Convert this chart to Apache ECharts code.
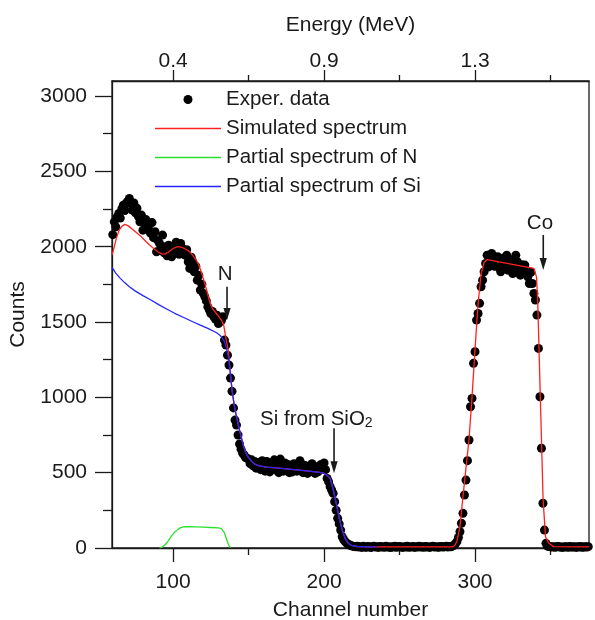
<!DOCTYPE html>
<html><head><meta charset="utf-8">
<script src="https://cdn.jsdelivr.net/npm/echarts@6/dist/echarts.min.js"></script>
<style>html,body{margin:0;padding:0;background:#fff}#c{width:595px;height:620px}</style>
</head><body><div id="c"></div>
<script>
// ---- tick definitions ----
const channelTicks = [100, 200, 300];
const channelMinorTicks = [150, 250, 350];
const energyTickLabels = ['0.4', '0.9', '1.3'];
const countTicks = [0, 500, 1000, 1500, 2000, 2500, 3000];
const countMinorTicks = [250, 750, 1250, 1750, 2250, 2750];

// ---- experimental data [channel, counts] ----
const expData = [
[60,2080],[61,2165],[62,2132],[63,2200],[64,2221],[65,2190],[66,2250],[67,2276],[68,2240],[69,2290],
[70,2300],[71,2320],[72,2285],[73,2243],[74,2290],[75,2225],[76,2255],[77,2200],[78,2165],[79,2210],
[80,2110],[81,2155],[82,2180],[83,2120],[84,2143],[85,2090],[86,2160],[87,2060],[88,2099],[89,1966],
[90,2040],[91,2022],[92,1990],[93,2077],[94,1960],[95,2000],[96,1940],[97,2010],[98,1960],[99,1933],
[100,1990],[101,1966],[102,2030],[103,1980],[104,1950],[105,2022],[106,1990],[107,1960],[108,1944],[109,1980],
[110,1900],[111,1856],[112,1930],[113,1900],[114,1834],[115,1870],[116,1778],[117,1810],[118,1712],[119,1750],
[120,1690],[121,1668],[122,1640],[123,1601],[124,1580],[125,1557],[126,1570],[127,1535],[128,1520],[129,1545],
[130,1490],[131,1502],[132,1510],[133,1535],[134,1380],[135,1347],[136,1280],[137,1214],[138,1128],[139,1040],
[140,930],[141,849],[142,816],[143,750],[144,690],[145,655],[146,630],[147,617],[148,600],[149,595],
[150,590],[151,560],[152,585],[153,545],[154,575],[155,530],[156,568],[157,550],[158,520],[159,580],
[160,545],[161,510],[162,575],[163,540],[164,505],[165,560],[166,530],[167,585],[168,520],[169,550],
[170,500],[171,590],[172,535],[173,510],[174,565],[175,520],[176,555],[177,500],[178,545],[179,505],
[180,560],[181,530],[182,510],[183,555],[184,580],[185,515],[186,500],[187,550],[188,530],[189,495],
[190,545],[191,510],[192,560],[193,525],[194,495],[195,540],[196,505],[197,520],[198,555],[199,540],
[200,565],[201,520],[202,462],[203,440],[204,407],[205,385],[206,363],[207,307],[208,250],[209,197],
[210,160],[211,119],[212,75],[213,55],[214,42],[215,32],[216,25],[217,20],[218,15],[219,12],
[220,10],[221,8],[222,12],[223,6],[224,9],[225,4],[226,11],[227,7],[228,5],[229,10],
[230,8],[231,3],[232,9],[233,12],[234,6],[235,8],[236,4],[237,10],[238,7],[239,9],
[240,5],[241,11],[242,6],[243,8],[244,3],[245,9],[246,7],[247,12],[248,5],[249,8],
[250,10],[251,6],[252,4],[253,9],[254,7],[255,11],[256,5],[257,8],[258,6],[259,10],
[260,4],[261,9],[262,7],[263,12],[264,6],[265,8],[266,5],[267,10],[268,7],[269,9],
[270,4],[271,8],[272,11],[273,6],[274,9],[275,7],[276,5],[277,10],[278,8],[279,6],
[280,9],[281,12],[282,7],[283,10],[284,8],[285,12],[286,18],[287,28],[288,42],[289,70],
[290,108],[291,164],[292,230],[293,352],[294,451],[295,580],[296,717],[297,938],[298,993],[299,1226],
[300,1303],[301,1513],[302,1557],[303,1624],[304,1734],[305,1778],[306,1834],[307,1889],[308,1944],[309,1866],
[310,1920],[311,1955],[312,1900],[313,1870],[314,1930],[315,1933],[316,1860],[317,1834],[318,1900],[319,1925],
[320,1870],[321,1944],[322,1844],[323,1890],[324,1910],[325,1822],[326,1870],[327,1944],[328,1900],[329,1840],
[330,1811],[331,1880],[332,1850],[333,1878],[334,1830],[335,1800],[336,1756],[337,1830],[338,1756],[339,1690],
[340,1646],[341,1546],[342,1325],[343,1004],[344,662],[345,297],[346,119],[347,31],[348,12],[349,10],
[350,8],[351,6],[352,9],[353,5],[354,8],[355,10],[356,6],[357,7],[358,4],[359,9],
[360,6],[361,8],[362,5],[363,10],[364,7],[365,6],[366,9],[367,4],[368,8],[369,6],
[370,10],[371,5],[372,7],[373,8],[374,6],[375,9]
];

// ---- simulated spectrum [channel, counts] ----
const simData = [
[59.5,1944],[61,2000],[62.5,2060],[64,2105],[66,2135],[68,2148],[70,2140],[72,2125],[75,2100],[78,2075],
[81,2045],[84,2015],[87,1989],[90,1965],[92.5,1953],[94.5,1951],[97,1965],[100,1988],[103,2000],[106,1995],
[109,1980],[111,1966],[113,1942],[115,1915],[117,1880],[119,1820],[121,1756],[123,1680],[124.5,1624],[126,1590],
[128,1565],[130,1540],[132,1512],[133.5,1480],[135,1390],[136.5,1314],[138,1150],[139,1050],[140,980],[141,920],
[142,870],[143,825],[144,783],[145,740],[146,700],[147,665],[148,635],[149,615],[150,600],[152,575],
[154,557],[157,545],[162,537],[170,530],[180,520],[190,510],[197,502],[200,495],[202,482],[204,462],
[206,390],[208,300],[210,200],[212,120],[214,62],[216,32],[218,18],[222,10],[230,7],[285,7],
[286.5,15],[288,45],[290,140],[292,340],[294,530],[296,720],[298,1000],[300,1320],[302,1620],[304,1820],
[306,1895],[308,1915],[309,1916],[339,1856],[340.7,1800],[341.5,1646],[343.3,982],[345.1,318],[346.7,75],[348.9,31],
[352,9],[375.5,8]
];

// ---- partial spectrum of N ----
const nData = [
[91,0],[93,8],[95,25],[97,50],[99,80],[101,105],[103,122],[105,135],[107,141],[110,142],
[115,140],[120,138],[125,136],[130,133],[132,128],[133,118],[134,100],[135,70],[136,40],[137,15],[138,2]
];

// ---- partial spectrum of Si ----
const siData = [
[59.5,1863],[62,1825],[65,1790],[68,1760],[71,1734],[75,1705],[80,1675],[85,1648],[91,1612],[96,1585],
[101,1558],[107,1530],[113,1502],[118,1480],[123,1458],[128.8,1429],[131,1412],[132.5,1395],[134,1370],[135.5,1320],
[137,1240],[138,1150],[139,1050],[140,980],[141,920],[142,870],[143,825],[144,783],[145,740],[146,700],
[147,665],[148,635],[149,615],[150,600],[152,575],[154,557],[157,545],[162,537],[170,530],[180,520],
[190,510],[197,502],[200,495],[202,482],[204,462],[206,390],[208,300],[210,200],[212,120],[214,62],
[216,32],[218,18],[222,10],[230,7],[235,7]
];

// ---- annotations (data coordinates) ----
const annoTexts = [
  {text: 'N', ch: 134.4, counts: 1814, align: 'center'},
  {text: 'Si from SiO{s|2}', ch: 157.6, counts: 856, align: 'left'},
  {text: 'Co', ch: 343.0, counts: 2155, align: 'center'}
];
const annoArrows = [
  {ch: 135.7, from: 1734, to: 1513},
  {ch: 206.6, from: 795, to: 496},
  {ch: 345.2, from: 2078, to: 1845}
];

const FONT = '"Liberation Sans", Arial, Helvetica, sans-serif';
const INK = '#1a1a1a';
const X_MIN = 59.5, X_MAX = 375.5, Y_MAX = 3100;
const LW = 1.3;
const LINE_ICON = 'path://M0,0H66V1.4H0Z';

function xa(extra) {
  return Object.assign({type: 'value', min: X_MIN, max: X_MAX, gridIndex: 0,
    splitLine: {show: false}}, extra);
}
function ya(extra) {
  return Object.assign({type: 'value', min: 0, max: Y_MAX, gridIndex: 0,
    splitLine: {show: false}}, extra);
}
const lineAx = {show: true, onZero: false, lineStyle: {color: INK, width: LW}};
const noLine = {show: false, onZero: false};
const tickStyle = {color: INK, width: LW};
const lblStyle = {fontSize: 21, color: INK, fontFamily: FONT};
const nameStyle = {fontSize: 21, color: INK, fontFamily: FONT};

const chart = echarts.init(document.getElementById('c'));
chart.setOption({
  animation: false,
  backgroundColor: '#fff',
  grid: {left: 112, right: 6, top: 81, bottom: 72, show: true, borderColor: INK, borderWidth: LW,
    backgroundColor: 'transparent', containLabel: false, outerBoundsMode: 'none'},
  legend: {
    orient: 'vertical', left: 150, top: 84, itemWidth: 66, itemHeight: 9, itemGap: 8,
    textStyle: {fontSize: 20.5, lineHeight: 20, color: INK, fontFamily: FONT},
    data: [
      {name: 'Exper. data', icon: 'circle'},
      {name: 'Simulated spectrum', icon: LINE_ICON},
      {name: 'Partial spectrum of N', icon: LINE_ICON},
      {name: 'Partial spectrum of Si', icon: LINE_ICON}
    ]
  },
  xAxis: [
    xa({position: 'bottom', axisLine: lineAx,
      axisTick: {show: true, inside: false, length: 14, customValues: channelTicks, lineStyle: tickStyle},
      axisLabel: Object.assign({customValues: channelTicks, margin: 24}, lblStyle),
      name: 'Channel number', nameLocation: 'middle', nameGap: 52, nameTextStyle: nameStyle}),
    xa({position: 'bottom', axisLine: noLine,
      axisTick: {show: true, inside: false, length: 7, customValues: channelMinorTicks, lineStyle: tickStyle},
      axisLabel: {show: false}}),
    xa({position: 'top', axisLine: lineAx,
      axisTick: {show: true, inside: false, length: 11, customValues: channelTicks, lineStyle: tickStyle},
      axisLabel: Object.assign({customValues: channelTicks, margin: 9,
        formatter: v => energyTickLabels[channelTicks.indexOf(v)]}, lblStyle),
      name: 'Energy (MeV)', nameLocation: 'middle', nameGap: 45, nameTextStyle: nameStyle}),
    xa({position: 'top', axisLine: noLine,
      axisTick: {show: true, inside: false, length: 6, customValues: channelMinorTicks, lineStyle: tickStyle},
      axisLabel: {show: false}})
  ],
  yAxis: [
    ya({position: 'left', axisLine: lineAx,
      axisTick: {show: true, inside: false, length: 17, customValues: countTicks, lineStyle: tickStyle},
      axisLabel: Object.assign({customValues: countTicks, margin: 25, formatter: v => String(v)}, lblStyle),
      name: 'Counts', nameLocation: 'middle', nameGap: 83, nameRotate: 90, nameTextStyle: nameStyle}),
    ya({position: 'left', axisLine: noLine,
      axisTick: {show: true, inside: false, length: 9, customValues: countMinorTicks, lineStyle: tickStyle},
      axisLabel: {show: false}})
  ],
  series: [
    {name: 'Exper. data', type: 'scatter', xAxisIndex: 0, yAxisIndex: 0, data: expData,
      symbol: 'circle', symbolSize: 9, itemStyle: {color: '#000', opacity: 1}, z: 2, clip: false},
    {name: 'Simulated spectrum', type: 'line', xAxisIndex: 0, yAxisIndex: 0, data: simData,
      symbol: 'none', color: '#ff2020', lineStyle: {width: 1.3, color: '#ff2020'}, z: 3},
    {name: 'Partial spectrum of N', type: 'line', xAxisIndex: 0, yAxisIndex: 0, data: nData,
      symbol: 'none', color: '#2ee02e', lineStyle: {width: 1.3, color: '#2ee02e'}, z: 3},
    {name: 'Partial spectrum of Si', type: 'line', xAxisIndex: 0, yAxisIndex: 0, data: siData,
      symbol: 'none', color: '#2424ff', lineStyle: {width: 1.3, color: '#2424ff'}, z: 4}
  ]
});

function px(ch, counts) { return chart.convertToPixel({seriesIndex: 0}, [ch, counts]); }
const gfx = [];
annoTexts.forEach(a => {
  const p = px(a.ch, a.counts);
  gfx.push({type: 'text', x: p[0], y: p[1], z: 10, style: {
    text: a.text, fontSize: 20.5, fontFamily: FONT, fill: INK, align: a.align, verticalAlign: 'middle',
    rich: {s: {fontSize: 14, fontFamily: FONT, fill: INK, verticalAlign: 'bottom', padding: [9, 0, 0, 0]}}
  }});
});
annoArrows.forEach(a => {
  const t = px(a.ch, a.from), b = px(a.ch, a.to);
  const head = 12, hw = 3.6;
  gfx.push({type: 'line', z: 10, shape: {x1: t[0], y1: t[1], x2: b[0], y2: b[1] - head + 1},
    style: {stroke: INK, lineWidth: 1.6}});
  gfx.push({type: 'polygon', z: 10, shape: {points: [[b[0] - hw, b[1] - head], [b[0] + hw, b[1] - head], [b[0], b[1]]]},
    style: {fill: INK}});
});
chart.setOption({graphic: gfx});
</script>
</body></html>
